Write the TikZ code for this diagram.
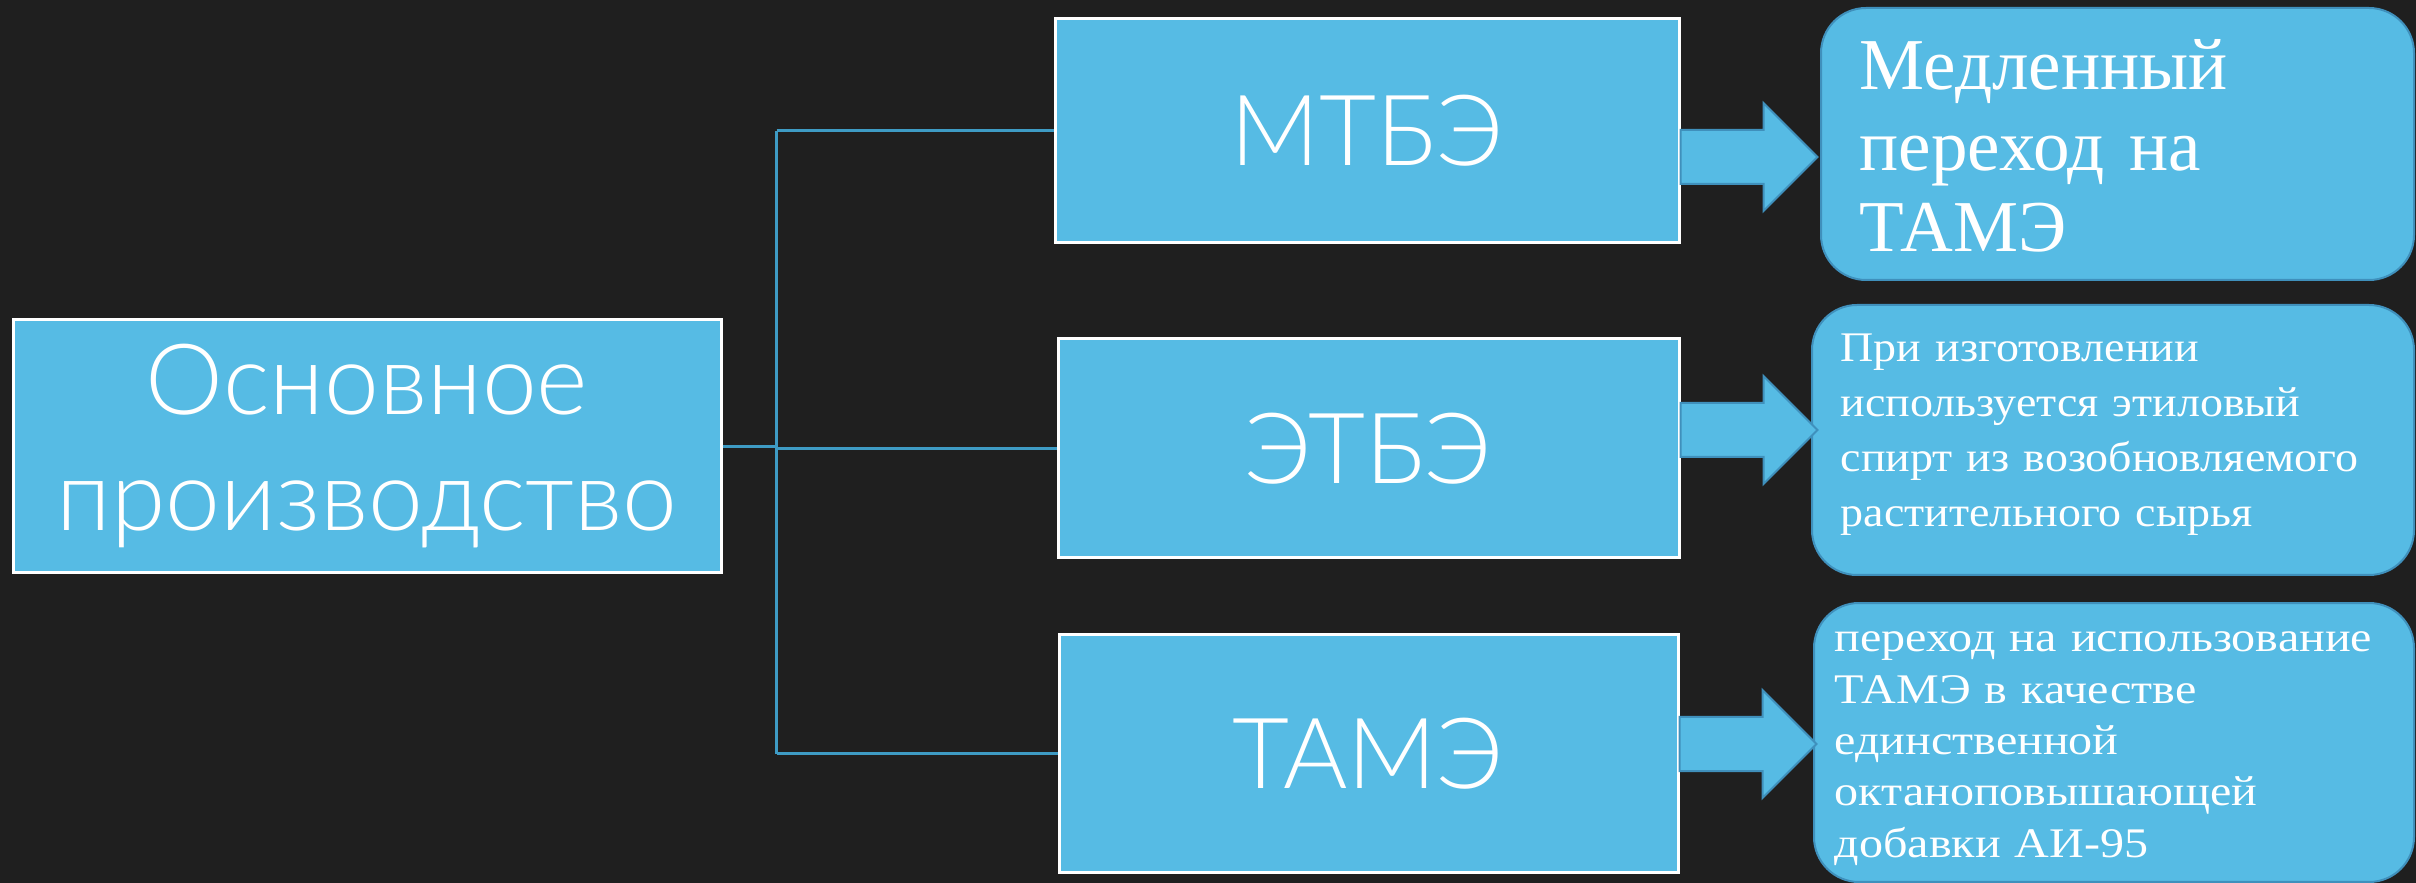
\documentclass[tikz,border=0pt]{standalone}
\usepackage{fontspec}
\setmainfont{Liberation Serif}
\newfontfamily\thinsans{Lato Light}
\newfontfamily\widerserif[FakeStretch=1.09]{Liberation Serif}
\newfontfamily\widestserif[FakeStretch=1.14]{Liberation Serif}
\usetikzlibrary{calc}
\definecolor{board}{HTML}{1F1F1F}
\definecolor{boxblue}{HTML}{56BBE4}
\definecolor{rimblue}{HTML}{3F90BC}
\definecolor{linkblue}{HTML}{3E9BC4}

\begin{document}
\begin{tikzpicture}[x=0.1mm, y=-0.1mm,
    plate/.style={draw=white, line width=0.3mm, fill=boxblue, text=white,
        font=\thinsans\fontsize{28}{33}\selectfont, align=center},
    note/.style={draw=rimblue, line width=0.2mm, fill=boxblue, rounded corners=4.5mm},
    notetext/.style={text=white, anchor=base west, inner sep=0pt, text width=58mm, align=left},
    link/.style={draw=linkblue, line width=0.3mm},
    fatarrow/.style={draw=rimblue, line width=0.2mm, fill=boxblue}]
    \fill[board] (0,0) rectangle (2416,883);
    \useasboundingbox (0,0) rectangle (2416,883);
    \node[plate, minimum width=70.8mm, minimum height=25.3mm] (base) at (367,446.5) {Основное\\производство};
    \node[plate, minimum width=62.4mm, minimum height=22.4mm] (mtbe) at (1367,131) {МТБЭ};
    \node[plate, minimum width=62.1mm, minimum height=21.9mm] (etbe) at (1368.5,448.5) {ЭТБЭ};
    \node[plate, minimum width=61.9mm, minimum height=23.9mm] (tame) at (1368.5,753.5) {ТАМЭ};
    \coordinate (hub) at ([xshift=5.4mm]base.east);
    \draw[link] (base.east) -- (hub);
    \draw[link] (hub |- mtbe.west) -- (hub |- tame.west);
    \foreach \b in {mtbe, etbe, tame}
        \draw[link] (hub |- \b.west) -- (\b.west);
    \node[note, minimum width=59.3mm, minimum height=27.2mm] (slow) at (2117.5,144) {};
    \node[note, minimum width=60.2mm, minimum height=27mm] (bio) at (2113,440) {};
    \node[note, minimum width=60mm, minimum height=27.9mm] (only) at (2114,742.5) {};
    \foreach \src/\ay in {mtbe/157, etbe/430, tame/744}
        \draw[fatarrow] (\src.east |- 0,\ay) -- ++(0,-27) -- ++(83,0) -- ++(0,-27)
            -- ++(54,54) -- ++(-54,54) -- ++(0,-27) -- ++(-83,0) -- cycle;
    \node[notetext, font=\fontsize{20.8}{23}\selectfont] (slowtext) at (1859,90)
        {Медленный\\переход на\\ТАМЭ};
    \node[notetext, font=\widerserif\fontsize{12}{15.6}\selectfont] (biotext) at (1840,362)
        {При изготовлении\\используется этиловый\\спирт из возобновляемого\\растительного сырья};
    \node[notetext, font=\widestserif\fontsize{12}{14.6}\selectfont] (onlytext) at (1834,652)
        {переход на использование\\ТАМЭ в качестве\\единственной\\октаноповышающей\\добавки АИ-95};
\end{tikzpicture}
\end{document}
